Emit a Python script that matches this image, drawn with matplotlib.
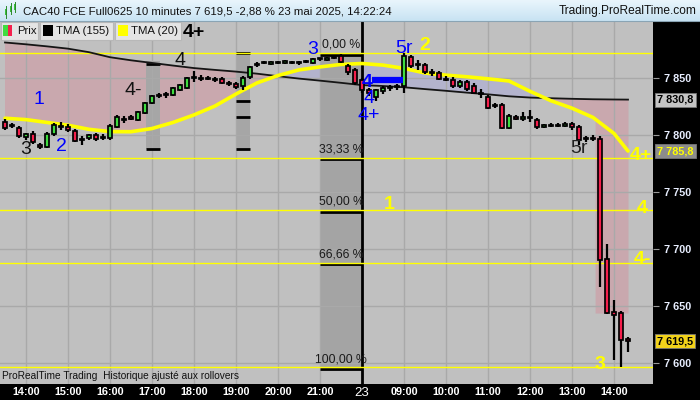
import numpy as np
import matplotlib
matplotlib.use("Agg")
import matplotlib.pyplot as plt
import matplotlib.font_manager as fm
from matplotlib.patches import Rectangle
from matplotlib import transforms

# -----------------------------
# Fonts
# -----------------------------
installed = {f.name for f in fm.fontManager.ttflist}
base_font = "Liberation Sans" if "Liberation Sans" in installed else "DejaVu Sans"
narrow_font = "Liberation Sans Narrow" if "Liberation Sans Narrow" in installed else base_font
plt.rcParams["font.family"] = base_font

# -----------------------------
# Data (CAC40 future, 10 min bars, 13:30 on 22 May -> 14:20 on 23 May)
# -----------------------------
opens = [
    7811.0, 7808.5, 7806.0, 7798.0, 7800.5, 7791.0, 7789.5, 7800.5, 7807.5, 7807.0,
    7803.5, 7796.5, 7797.0, 7800.0, 7798.0, 7797.0, 7807.0, 7814.0, 7815.5, 7813.0,
    7819.0, 7828.0, 7834.0, 7835.0, 7835.0, 7839.0, 7841.0, 7849.5, 7849.5, 7849.5,
    7849.0, 7849.0, 7845.5, 7844.5, 7842.5, 7850.5, 7861.0, 7863.0, 7862.0, 7863.0,
    7863.0, 7864.0, 7863.0, 7864.0, 7863.0, 7866.5, 7865.5, 7867.5, 7869.0, 7860.0,
    7857.0, 7848.0, 7839.0, 7833.0, 7838.5, 7841.0, 7842.0, 7842.5, 7868.0, 7862.0,
    7861.0, 7855.0, 7854.0, 7849.0, 7848.0, 7842.5, 7846.0, 7842.5, 7836.5, 7833.0,
    7825.0, 7826.0, 7806.0, 7815.5, 7814.0, 7815.5, 7813.0, 7807.0, 7808.5, 7808.5,
    7807.5, 7809.5, 7807.0, 7796.5, 7796.0, 7796.5, 7691.5, 7645.0, 7644.0, 7621.5,
]
highs = [
    7814.0, 7810.5, 7807.5, 7801.5, 7803.5, 7793.0, 7802.5, 7810.5, 7811.0, 7809.5,
    7805.0, 7799.0, 7800.5, 7801.5, 7800.5, 7809.5, 7817.5, 7816.5, 7817.5, 7821.0,
    7828.5, 7835.0, 7836.5, 7837.5, 7842.0, 7844.5, 7850.5, 7856.0, 7852.5, 7851.5,
    7850.5, 7850.5, 7847.0, 7846.0, 7851.5, 7860.0, 7864.0, 7864.5, 7864.5, 7864.5,
    7865.5, 7864.5, 7864.5, 7865.5, 7867.5, 7867.5, 7868.0, 7869.0, 7870.5, 7862.0,
    7858.5, 7850.0, 7841.0, 7840.0, 7842.5, 7843.5, 7844.5, 7871.5, 7870.0, 7865.5,
    7863.0, 7857.5, 7856.0, 7851.5, 7850.5, 7848.0, 7848.0, 7845.5, 7840.0, 7835.0,
    7828.0, 7828.0, 7818.0, 7817.5, 7820.0, 7821.5, 7814.5, 7809.5, 7810.5, 7810.5,
    7811.0, 7811.0, 7808.5, 7799.0, 7800.0, 7799.0, 7704.5, 7655.5, 7646.0, 7623.0,
]
lows = [
    7804.0, 7806.0, 7797.0, 7795.5, 7792.0, 7787.5, 7788.5, 7799.0, 7804.0, 7802.5,
    7793.5, 7791.0, 7795.5, 7794.5, 7795.5, 7795.5, 7806.0, 7810.5, 7813.0, 7812.0,
    7818.0, 7827.0, 7832.0, 7832.0, 7834.0, 7838.5, 7840.0, 7846.0, 7847.0, 7848.0,
    7846.0, 7844.5, 7842.5, 7840.0, 7839.0, 7849.0, 7859.5, 7862.0, 7861.0, 7862.0,
    7862.0, 7862.0, 7861.0, 7863.0, 7862.0, 7864.5, 7864.5, 7866.5, 7863.0, 7852.5,
    7843.5, 7836.5, 7834.0, 7829.5, 7835.5, 7838.5, 7839.0, 7836.5, 7858.5, 7856.5,
    7853.5, 7851.5, 7848.0, 7847.0, 7841.0, 7841.0, 7838.5, 7835.5, 7832.0, 7822.5,
    7823.5, 7805.0, 7805.0, 7813.0, 7812.0, 7811.0, 7805.0, 7806.0, 7807.0, 7807.0,
    7807.0, 7804.0, 7791.0, 7793.5, 7794.5, 7667.0, 7643.0, 7603.0, 7596.5, 7610.0,
]
closes = [
    7806.0, 7807.5, 7799.0, 7800.5, 7793.5, 7789.5, 7800.5, 7808.5, 7807.0, 7804.0,
    7794.5, 7795.5, 7800.0, 7796.5, 7797.5, 7807.5, 7815.5, 7813.0, 7814.0, 7820.0,
    7828.0, 7834.0, 7835.0, 7835.5, 7841.0, 7843.5, 7849.5, 7850.0, 7849.0, 7849.0,
    7848.0, 7845.5, 7844.5, 7842.0, 7849.5, 7859.5, 7862.0, 7863.5, 7864.0, 7862.5,
    7864.5, 7863.0, 7862.5, 7863.5, 7866.5, 7866.0, 7867.5, 7868.0, 7864.0, 7855.0,
    7845.5, 7839.0, 7836.5, 7839.0, 7841.0, 7841.5, 7842.5, 7869.0, 7860.0, 7861.0,
    7855.0, 7854.0, 7849.0, 7848.0, 7842.5, 7846.0, 7840.0, 7836.5, 7835.5, 7823.5,
    7826.0, 7806.0, 7816.5, 7814.0, 7815.5, 7814.5, 7807.0, 7808.5, 7808.0, 7808.0,
    7809.5, 7807.0, 7795.5, 7797.0, 7797.0, 7690.5, 7644.0, 7642.5, 7620.5, 7619.5,
]

# moving averages, read every 3 bars
tma_k = [0, 3, 6, 9, 12, 15, 18, 21, 24, 27, 30, 33, 36, 39, 42, 45, 48, 51,
         54, 57, 60, 63, 66, 69, 72, 75, 78, 81, 84, 87, 89]
tma155 = [7880.8, 7879.2, 7877.4, 7875.4, 7872.3, 7867.9, 7865.2, 7862.9, 7860.6, 7858.4,
          7856.8, 7855.3, 7853.5, 7851.3, 7849.2, 7847.4, 7845.5, 7843.5, 7842.7, 7841.6,
          7840.0, 7838.5, 7836.9, 7835.4, 7833.7, 7832.6, 7832.0, 7831.5, 7831.1, 7830.9,
          7830.8]
tma20 = [7814.5, 7813.3, 7810.8, 7808.4, 7804.8, 7802.8, 7802.7, 7805.5, 7810.8, 7817.4,
         7825.2, 7835.7, 7845.4, 7851.9, 7856.8, 7859.4, 7861.6, 7862.4, 7861.0, 7858.1,
         7854.1, 7852.2, 7850.8, 7849.0, 7847.1, 7838.1, 7829.8, 7823.3, 7815.2, 7801.2,
         7785.8]

# extra shaded zone at the end of the session
zone_k = [84.3, 86, 88, 89]
zone_top = [7831.1, 7831.0, 7830.9, 7830.8]
zone_bottom = [7644.0, 7644.0, 7644.0, 7644.0]

# Fibonacci retracement
fib_high = 7871.4
fib_low = 7596.5
fib_ratios = [0.0, 0.3333, 0.50, 0.6666, 1.0]
fib_labels = ["0,00 %", "33,33 %", "50,00 %", "66,66 %", "100,00 %"]
fib_span = (45, 51)

# grey vertical zones with their marks
zones = [(20.1, 22.1, 7787.5, 7864.5), (33.0, 35.0, 7787.5, 7872.5)]
zone_marks = [[7862.0, 7787.5], [7871.4, 7829.6, 7815.6, 7787.6]]

tick_pos = [3, 9, 15, 21, 27, 33, 39, 45, 51, 57, 63, 69, 75, 81, 87]
tick_labels = ["14:00", "15:00", "16:00", "17:00", "18:00", "19:00", "20:00", "21:00",
               "23", "09:00", "10:00", "11:00", "12:00", "13:00", "14:00"]
price_ticks = [7600, 7650, 7700, 7750, 7800, 7850]
price_labels = ["7 600", "7 650", "7 700", "7 750", "7 800", "7 850"]

# wave labels: text, bar, price, colour, bold
wave_labels = [
    ("1", 4.9, 7830.5, "#0000ff", False),
    ("2", 8.0, 7789.4, "#0000ff", False),
    ("3", 3.0, 7786.7, "#111111", False),
    ("4-", 18.3, 7839.2, "#111111", False),
    ("4", 25.0, 7864.6, "#111111", False),
    ("4+", 27.0, 7889.1, "#000000", True),
    ("3", 44.0, 7874.3, "#0000ff", False),
    ("5r", 57.0, 7875.1, "#0000ff", False),
    ("2", 59.9, 7877.8, "#ffff00", True),
    ("4", 51.7, 7846.2, "#0000ff", True),
    ("4", 52.0, 7831.4, "#0000ff", False),
    ("4+", 52.0, 7816.5, "#0000ff", False),
    ("1", 54.9, 7738.6, "#ffff00", True),
    ("5r", 82.0, 7787.6, "#222222", False),
    ("4+", 90.9, 7781.5, "#ffff00", True),
    ("4", 91.0, 7735.9, "#ffff00", True),
    ("4-", 91.0, 7691.3, "#ffff00", True),
    ("3", 85.0, 7599.4, "#ffff00", True),
]
arrow_k = (52.4, 56.9)
arrow_price = 7847.8

last_values = [("7 830,8", 7830.8, "#c4c4c4", "#000000"),
               ("7 785,8", 7785.8, "#8c8c8c", "#ffff00"),
               ("7 619,5", 7619.5, "#f2d21a", "#000000")]

# -----------------------------
# Figure
# -----------------------------
W, H = 700, 400
fig = plt.figure(figsize=(7, 4), dpi=100, facecolor="black")


def fx(x):
    return x / W


def fy(y):
    return 1 - y / H


bg = "#c0c0c0"
pink = "#c9a8ae"
lavender = "#b3b3cd"
green = "#40dc40"
red = "#f51f4c"

ax = fig.add_axes([0, fy(384), fx(653), (384 - 21) / H])
ax.set_facecolor(bg)
ax.set_xlim(-5 / 7, 648 / 7)
ax.set_ylim(7581.9, 7899.6)
for s in ax.spines.values():
    s.set_visible(False)
ax.set_axisbelow(True)
ax.grid(True, color="#a9a9a9", lw=1)

# fills between averages
tk = np.array(tma_k)
t155 = np.array(tma155)
t20 = np.array(tma20)
ax.fill_between(tk, t20, t155, where=t20 <= t155, interpolate=True, color=pink, lw=0, zorder=0.2)
ax.fill_between(tk, t20, t155, where=t20 >= t155, interpolate=True, color=lavender, lw=0, zorder=0.2)
ax.fill_between(zone_k, zone_bottom, zone_top, color=pink, lw=0, zorder=0.2)

# grey zones
for (k0, k1, p0, p1), marks in zip(zones, zone_marks):
    ax.add_patch(Rectangle((k0, p0), k1 - k0, p1 - p0, color="#a6a6a6", lw=0, zorder=0.3))
    ax.hlines(marks, k0, k1, color="black", lw=2, zorder=2)

# fibonacci box
fib_levels = [fib_high - r * (fib_high - fib_low) for r in fib_ratios]
ax.add_patch(Rectangle((fib_span[0], fib_low), fib_span[1] - fib_span[0], fib_high - fib_low,
                       color="#a4a4a4", lw=0, zorder=0.3))
ax.hlines([v - 1.2 for v in fib_levels], fib_span[0], fib_span[1], color="black", lw=2, zorder=2)
for v in fib_levels:
    ax.axhline(v, color="#ffff00", lw=1, zorder=3)
for v, lab in zip(fib_levels, fib_labels):
    ax.text(sum(fib_span) / 2, v + 2.0, lab, ha="center", va="bottom", fontsize=8.8,
            color="#1a1a1a", zorder=6)

# day separator
ax.axvline(51, color="black", lw=2, zorder=2.5)

# averages
ax.plot(tk, t155, color="#151515", lw=1.3, zorder=3.5)
ax.plot(tk, t20, color="#ffff00", lw=2.6, zorder=3.5, solid_capstyle="round")

# candles
o = np.array(opens)
c = np.array(closes)
hi = np.array(highs)
lo = np.array(lows)
idx = np.arange(len(c))
ax.vlines(idx, lo, hi, color="black", lw=1.6, zorder=4)
bottoms = np.minimum(o, c)
heights = np.maximum(np.abs(c - o), 1.0)
colors = [green if cc >= oo else red for oo, cc in zip(o, c)]
ax.bar(idx, heights, bottom=bottoms, width=0.58, color=colors, edgecolor="black",
       linewidth=1.25, zorder=4.5)

# wave labels
for txt, k, p, col, bold in wave_labels:
    ax.text(k, p, txt, ha="center", va="center", fontsize=14, color=col,
            fontweight="bold" if bold else "normal", zorder=7, clip_on=False)
ax.hlines(arrow_price, arrow_k[0], arrow_k[1], color="#0000ff", lw=4.5, zorder=6)

ax.text(0.003, 0.022, "ProRealTime Trading  Historique ajusté aux rollovers",
        transform=ax.transAxes, fontsize=7.3, color="#111111", va="center", ha="left",
        family=narrow_font, zorder=7)

# axes ticks
ax.set_xticks(tick_pos, tick_labels)
ax.tick_params(axis="x", length=0, pad=2.5, labelcolor="white", labelsize=7.8)
for lab in ax.get_xticklabels():
    lab.set_fontweight("bold")
    lab.set_family(narrow_font)
    if lab.get_text() == "23":
        lab.set_fontsize(9.5)
        lab.set_fontweight("normal")
ax.yaxis.tick_right()
ax.set_yticks(price_ticks, price_labels)
ax.tick_params(axis="y", direction="out", length=4, color="#9a9a9a", pad=4,
               labelcolor="#e8eeff", labelsize=7.8)
for lab in ax.get_yticklabels():
    lab.set_fontweight("bold")

# last value boxes
trans = transforms.blended_transform_factory(ax.transAxes, ax.transData)
for txt, v, fc, tc in last_values:
    ax.text(1.0065, v, txt, transform=trans, ha="left", va="center", fontsize=7.8,
            fontweight="bold", color=tc, clip_on=False, zorder=8,
            bbox=dict(boxstyle="square,pad=0.18", fc=fc, ec="#777777", lw=0.6))

# -----------------------------
# Header bar
# -----------------------------
hax = fig.add_axes([0, fy(21), 1, 21 / H])
grad = np.linspace(0, 1, 50).reshape(-1, 1)
hax.imshow(grad, aspect="auto", cmap=matplotlib.colors.LinearSegmentedColormap.from_list(
    "hdr", ["#e9f5fc", "#c8e3f3"]), extent=(0, 1, 0, 1), origin="upper")
hax.set_xlim(0, 1)
hax.set_ylim(0, 1)
hax.axis("off")
fig.add_artist(plt.Line2D([0, 1], [fy(21), fy(21)], color="#8aa4b4", lw=0.8))
fig.text(fx(23), fy(11), "CAC40 FCE Full0625 10 minutes 7 619,5 -2,88 % 23 mai 2025, 14:22:24",
         fontsize=8.2, color="#111111", va="center", ha="left")
fig.text(fx(697), fy(11), "Trading.ProRealTime.com", fontsize=8.6, color="#111111",
         va="center", ha="right")
# small candle icon
for x0, y0, y1, w0, w1 in [(5, 9, 15, 6, 18), (9.5, 6, 12, 3, 14), (14, 4, 10, 2, 12)]:
    fig.add_artist(plt.Line2D([fx(x0 + 1), fx(x0 + 1)], [fy(w1), fy(w0)], color="#2a8a2a", lw=0.7))
    fig.add_artist(Rectangle((fx(x0), fy(y1)), fx(2.2), (y1 - y0) / H, color="#3cc03c", lw=0))

# legend boxes
legend_items = [("Prix", 1, 38, None), ("TMA (155)", 40, 113, "#000000"), ("TMA (20)", 115, 181, "#ffff00")]
for name, x0, x1, col in legend_items:
    fig.add_artist(Rectangle((fx(x0), fy(39.5)), fx(x1 - x0), 17.5 / H, fc="#e4e4e4",
                             ec="#b8b8b8", lw=0.8))
    if col is None:
        fig.add_artist(Rectangle((fx(3), fy(36)), fx(4.5), 11 / H, color=green, lw=0))
        fig.add_artist(Rectangle((fx(7.5), fy(36)), fx(4.5), 11 / H, color=red, lw=0))
    else:
        fig.add_artist(Rectangle((fx(x0 + 3), fy(35.5)), fx(10), 10 / H, color=col, lw=0))
    fig.text(fx(x0 + 16), fy(30.5), name, fontsize=8.2, color="#111111", va="center", ha="left")

fig.savefig("out.png", dpi=100, facecolor="black")
